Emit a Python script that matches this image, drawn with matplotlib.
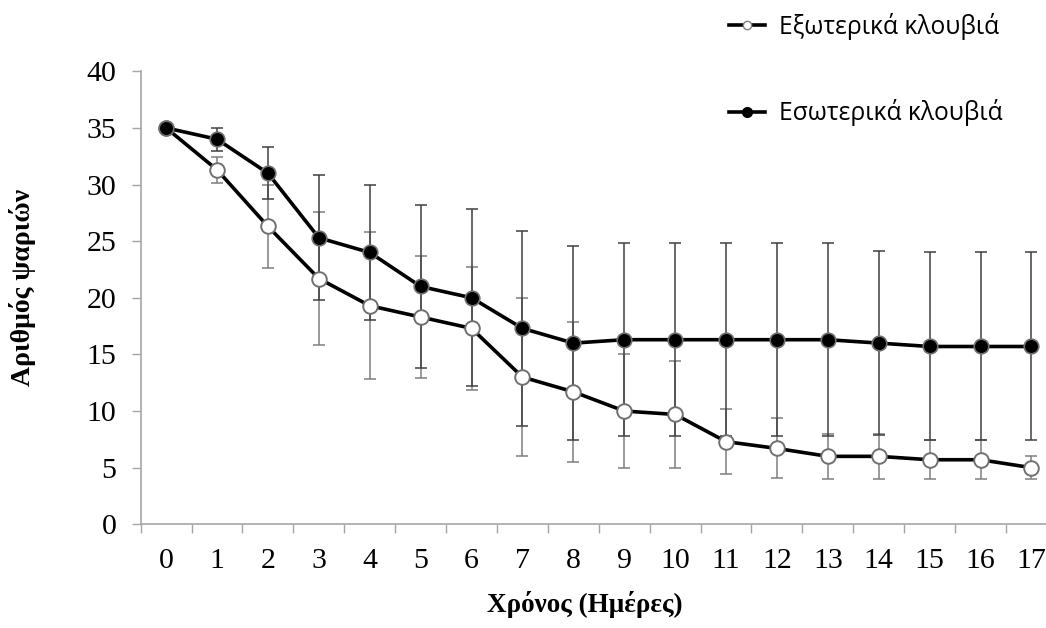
import matplotlib
matplotlib.use("Agg")
import matplotlib.pyplot as plt
from matplotlib.lines import Line2D
import numpy as np

days = list(range(18))
day_labels = [str(d) for d in days]

outer_mean = [35, 31.3, 26.3, 21.7, 19.3, 18.3, 17.3, 13.0, 11.7, 10.0, 9.7, 7.3, 6.7, 6.0, 6.0, 5.7, 5.7, 5.0]
outer_err = [0, 1.15, 3.7, 5.9, 6.5, 5.4, 5.4, 7.0, 6.2, 5.0, 4.7, 2.85, 2.65, 2.0, 2.0, 1.7, 1.7, 1.0]

inner_mean = [35, 34.0, 31.0, 25.3, 24.0, 21.0, 20.0, 17.3, 16.0, 16.3, 16.3, 16.3, 16.3, 16.3, 16.0, 15.7, 15.7, 15.7]
inner_err = [0, 1.0, 2.3, 5.5, 6.0, 7.2, 7.8, 8.6, 8.6, 8.5, 8.5, 8.5, 8.5, 8.5, 8.1, 8.3, 8.3, 8.3]

outer_label = "Εξωτερικά κλουβιά"
inner_label = "Εσωτερικά κλουβιά"

W, H = 1046, 628
fig = plt.figure(figsize=(W / 100, H / 100), dpi=100)
left = 140.7 / W
bottom = (H - 524.3) / H
width = (18 * 50.9) / W
height = 453.0 / H
ax = fig.add_axes([left, bottom, width, height])

x = np.arange(len(days))

ax.errorbar(x, outer_mean, yerr=outer_err, fmt='none', ecolor='#7f7f7f',
            elinewidth=1.1, capsize=4, capthick=1.1, zorder=2)
ax.errorbar(x, inner_mean, yerr=inner_err, fmt='none', ecolor='#404040',
            elinewidth=1.1, capsize=4, capthick=1.1, zorder=2)

ax.plot(x, outer_mean, color='black', lw=2.6, marker='o', ms=10.5,
        mfc='white', mec='#707070', mew=1.4, zorder=3)
ax.plot(x, inner_mean, color='black', lw=2.6, marker='o', ms=10.5,
        mfc='black', mec='#707070', mew=1.2, zorder=4)

ax.set_xlim(-0.5, 17.5)
ax.set_ylim(0, 40)
ax.set_yticks(range(0, 41, 5))

ax.set_xticks(np.arange(-0.5, 18, 1.0))
ax.set_xticklabels([])
ax.set_xticks(x, minor=True)
ax.set_xticklabels(day_labels, minor=True)
ax.tick_params(axis='x', which='minor', length=0, pad=17)
ax.tick_params(axis='x', which='major', length=6.5, width=1, color='#a6a6a6', direction='out')
ax.tick_params(axis='y', length=6.5, width=1, color='#a6a6a6', direction='out', pad=11)

serif = ['Liberation Serif', 'DejaVu Serif']
for lab in ax.get_yticklabels() + ax.get_xticklabels(minor=True):
    lab.set_fontfamily(serif)
    lab.set_fontsize(21.5)

for s in ['top', 'right']:
    ax.spines[s].set_visible(False)
for s in ['left', 'bottom']:
    ax.spines[s].set_color('#a6a6a6')
    ax.spines[s].set_linewidth(1.2)

fig.text(23 / W, 1 - 287 / H, "Αριθμός ψαριών", rotation=90, ha='center', va='center',
         fontfamily=serif, fontweight='bold', fontsize=20)
fig.text(585 / W, 1 - 604 / H, "Χρόνος (Ημέρες)", ha='center', va='center',
         fontfamily=serif, fontweight='bold', fontsize=19.5)

handles = [
    Line2D([], [], color='black', lw=2.6, marker='o', ms=6, mfc='white', mec='#808080', mew=1),
    Line2D([], [], color='black', lw=2.6, marker='o', ms=7, mfc='black', mec='black'),
]
leg = fig.legend(handles, [outer_label, inner_label], loc='upper left',
                 bbox_to_anchor=(729 / W, 1 - 13 / H), frameon=False,
                 prop={'family': ['Open Sans', 'DejaVu Sans'], 'size': 17.7},
                 handlelength=1.45, handletextpad=0.6, labelspacing=2.42,
                 borderpad=0, borderaxespad=0)

fig.savefig("out.png", dpi=100)
